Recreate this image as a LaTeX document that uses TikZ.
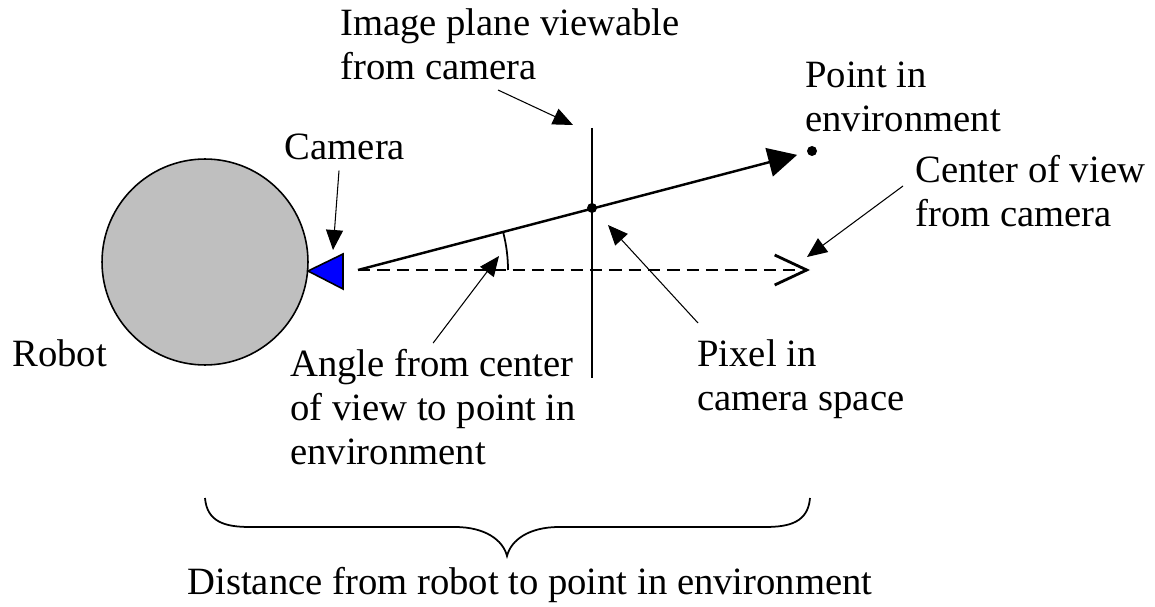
\documentclass[tikz,border=0pt]{standalone}
\usepackage{fontspec}
\setmainfont{Liberation Serif}
\usetikzlibrary{arrows.meta}

\begin{document}
\begin{tikzpicture}[x=0.02cm, y=-0.02cm, font=\fontsize{22}{25}\selectfont,
    txt/.style = {inner sep=0pt, align=left, anchor=north west},
    ptr/.style = {-{Triangle[length=0.4cm, width=0.34cm]}, line width=0.6pt},
    ray/.style = {line width=1.4pt},
    dot/.style = {fill, circle, inner sep=0pt, minimum size=0.2cm}]
    \useasboundingbox (0,0) rectangle (1155,607);
    % robot with its camera
    \node[draw, circle, fill=black!25, line width=0.9pt, minimum size=4.12cm, inner sep=0pt] (robot) at (205,262) {};
    \draw[fill=blue, line width=0.9pt] (308,271) -- (343,254) -- (343,289) -- cycle;
    \coordinate (cam) at (358,270);
    \coordinate (camtop) at (333,250);
    \coordinate (view) at (810,270);
    \node[dot, minimum size=0.2cm] (pt) at (812,151) {};
    \node[dot] (px) at (592,208) {};
    \coordinate (planetop) at (592,128);
    \coordinate (planebot) at (592,378);
    % labels
    \node[txt] (plane) at (340,8) {Image plane viewable\\from camera};
    \node[inner sep=0pt, anchor=north] (camera) at (345,134) {Camera};
    \node[txt] (point) at (805,62) {Point in\\environment};
    \node[txt] (center) at (915,155) {Center of view\\from camera};
    \node[txt] (robotlbl) at (12,339) {Robot};
    \node[txt] (angle) at (290,349) {Angle from center\\of view to point in\\environment};
    \node[txt] (pixel) at (697,339) {Pixel in\\camera space};
    \node[inner sep=0pt, anchor=north] (dist) at (530,567) {Distance from robot to point in environment};
    % rays and image plane
    \draw[ray] (planetop) -- (planebot);
    \draw[ray, dash pattern=on 7pt off 4pt, -{Straight Barb[length=0.64cm, width=0.6cm, line width=1.6pt]}] (cam) -- (view);
    \draw[ray, shorten >=0.2cm, -{Triangle[length=0.58cm, width=0.58cm]}] (cam) -- (pt);
    \draw[line width=1pt] (cam) ++(0:150) arc[start angle=0, end angle=-14.7, radius=150];
    % pointers
    \coordinate (planetail) at (498,90);
    \coordinate (planetip) at (573,125);
    \coordinate (angletip) at (499,256);
    \coordinate (pixeltail) at (698,323);
    \coordinate (pixeltip) at (608,225);
    \coordinate (centertail) at (903,186);
    \coordinate (centertip) at (807,257);
    \draw[ptr] (camera.south) ++(-6,10) -- (camtop);
    \draw[ptr] (planetail) -- (planetip);
    \draw[ptr] (angle.north) ++(0,-6) -- (angletip);
    \draw[ptr] (pixeltail) -- (pixeltip);
    \draw[ptr] (centertail) -- (centertip);
    % brace
    \draw[line width=1pt] (205,498) .. controls (207,522) and (225,527) .. (250,527) -- (455,527)
        .. controls (485,527) and (503,540) .. (507,556) .. controls (511,540) and (529,527) .. (559,527)
        -- (765,527) .. controls (790,527) and (808,522) .. (810,498);
\end{tikzpicture}
\end{document}
